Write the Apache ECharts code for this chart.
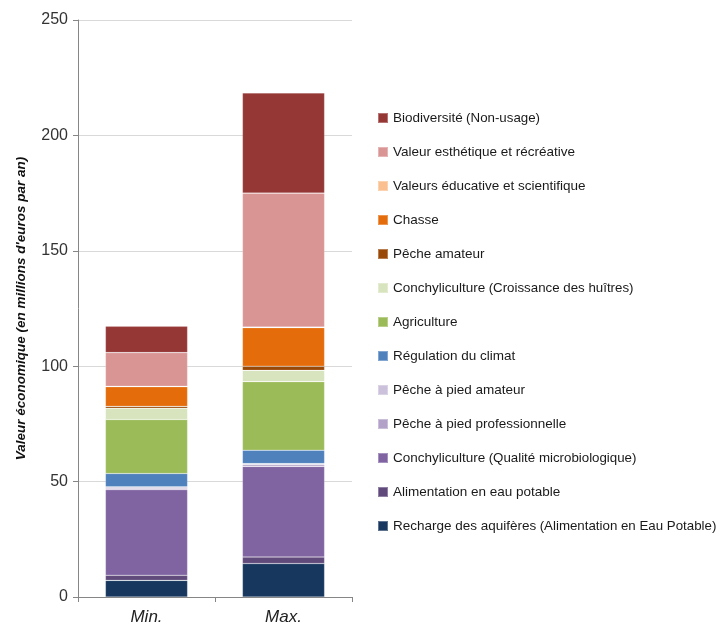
<!DOCTYPE html>
<html><head><meta charset="utf-8">
<script src="https://cdn.jsdelivr.net/npm/echarts@6/dist/echarts.min.js"></script>
<style>html,body{margin:0;padding:0;background:#fff}#c{width:728px;height:630px}</style>
</head><body><div id="c"></div>
<script>
const categories = ['Min.', 'Max.'];
const seriesNames = [
  'Recharge des aquifères (Alimentation en Eau Potable)',
  'Alimentation en eau potable',
  'Conchyliculture (Qualité microbiologique)',
  'Pêche à pied professionnelle',
  'Pêche à pied amateur',
  'Régulation du climat',
  'Agriculture',
  'Conchyliculture (Croissance des huîtres)',
  'Pêche amateur',
  'Chasse',
  'Valeurs éducative et scientifique',
  'Valeur esthétique et récréative',
  'Biodiversité (Non-usage)'
];
const recharge = [7.2, 14.5];
const alimentation = [2.2, 2.8];
const conchyQualite = [37.1, 39.3];
const pechePiedPro = [0.6, 0.7];
const pechePiedAmateur = [0.6, 0.5];
const climat = [5.8, 5.8];
const agriculture = [23.4, 29.7];
const conchyCroissance = [4.9, 4.9];
const pecheAmateur = [0.8, 1.8];
const chasse = [8.5, 16.7];
const educative = [0.2, 0.3];
const esthetique = [14.6, 58.0];
const biodiversite = [11.4, 43.4];
const yTicks = [0, 50, 100, 150, 200, 250];

const values = [recharge, alimentation, conchyQualite, pechePiedPro, pechePiedAmateur, climat,
  agriculture, conchyCroissance, pecheAmateur, chasse, educative, esthetique, biodiversite];
const colors = ['#17375E', '#604A7B', '#8064A2', '#B3A2C7', '#CCC1DA', '#4F81BD',
  '#9BBB59', '#D7E4BD', '#984807', '#E46C0A', '#FAC090', '#D99594', '#953735'];

const chart = echarts.init(document.getElementById('c'));
chart.setOption({
  animation: false,
  color: colors,
  grid: { left: 78, top: 20, width: 274, height: 577, containLabel: false },
  legend: {
    orient: 'vertical',
    left: 372,
    top: 106,
    itemWidth: 10,
    itemHeight: 10,
    itemGap: 20,
    icon: 'rect',
    data: seriesNames.slice().reverse(),
    formatter: function (name) {
      const i = name.indexOf(' (');
      if (i < 0) return '{a|' + name + '}';
      return '{a|' + name.slice(0, i) + '} {b|' + name.slice(i + 1) + '}';
    },
    textStyle: {
      rich: {
        a: { fontFamily: 'Liberation Sans, Arial', fontSize: 13.5, color: '#1a1a1a', lineHeight: 16 },
        b: { fontFamily: 'Liberation Sans, Arial', fontSize: 13.3, color: '#1a1a1a', lineHeight: 16 }
      }
    }
  },
  xAxis: {
    type: 'category',
    data: categories,
    axisLine: { lineStyle: { color: '#868686', width: 1 } },
    axisTick: { show: true, alignWithLabel: false, length: 5, lineStyle: { color: '#868686' } },
    axisLabel: { fontFamily: 'Liberation Sans, Arial', fontStyle: 'italic', fontSize: 17, color: '#222', margin: 12 }
  },
  yAxis: {
    type: 'value',
    min: 0, max: 250, interval: 50,
    name: "Valeur économique (en millions d'euros par an)",
    nameLocation: 'middle',
    nameGap: 50,
    nameTextStyle: { fontFamily: 'Liberation Sans, Arial', fontStyle: 'italic', fontWeight: 'bold', fontSize: 13.5, color: '#111' },
    axisLine: { show: true, lineStyle: { color: '#868686' } },
    axisTick: { show: true, length: 5, lineStyle: { color: '#868686' } },
    splitLine: { lineStyle: { color: '#d9d9d9' } },
    axisLabel: { fontFamily: 'Liberation Sans, Arial', fontSize: 16, color: '#333', margin: 10,
      formatter: v => yTicks.includes(v) ? String(v) : '' }
  },
  series: seriesNames.map((n, k) => ({
    name: n,
    type: 'bar',
    stack: 'total',
    barWidth: '60%',
    data: values[k],
    itemStyle: { color: colors[k], borderColor: 'rgba(255,255,255,0.3)', borderWidth: 0.6 }
  }))
});
</script>
</body></html>
